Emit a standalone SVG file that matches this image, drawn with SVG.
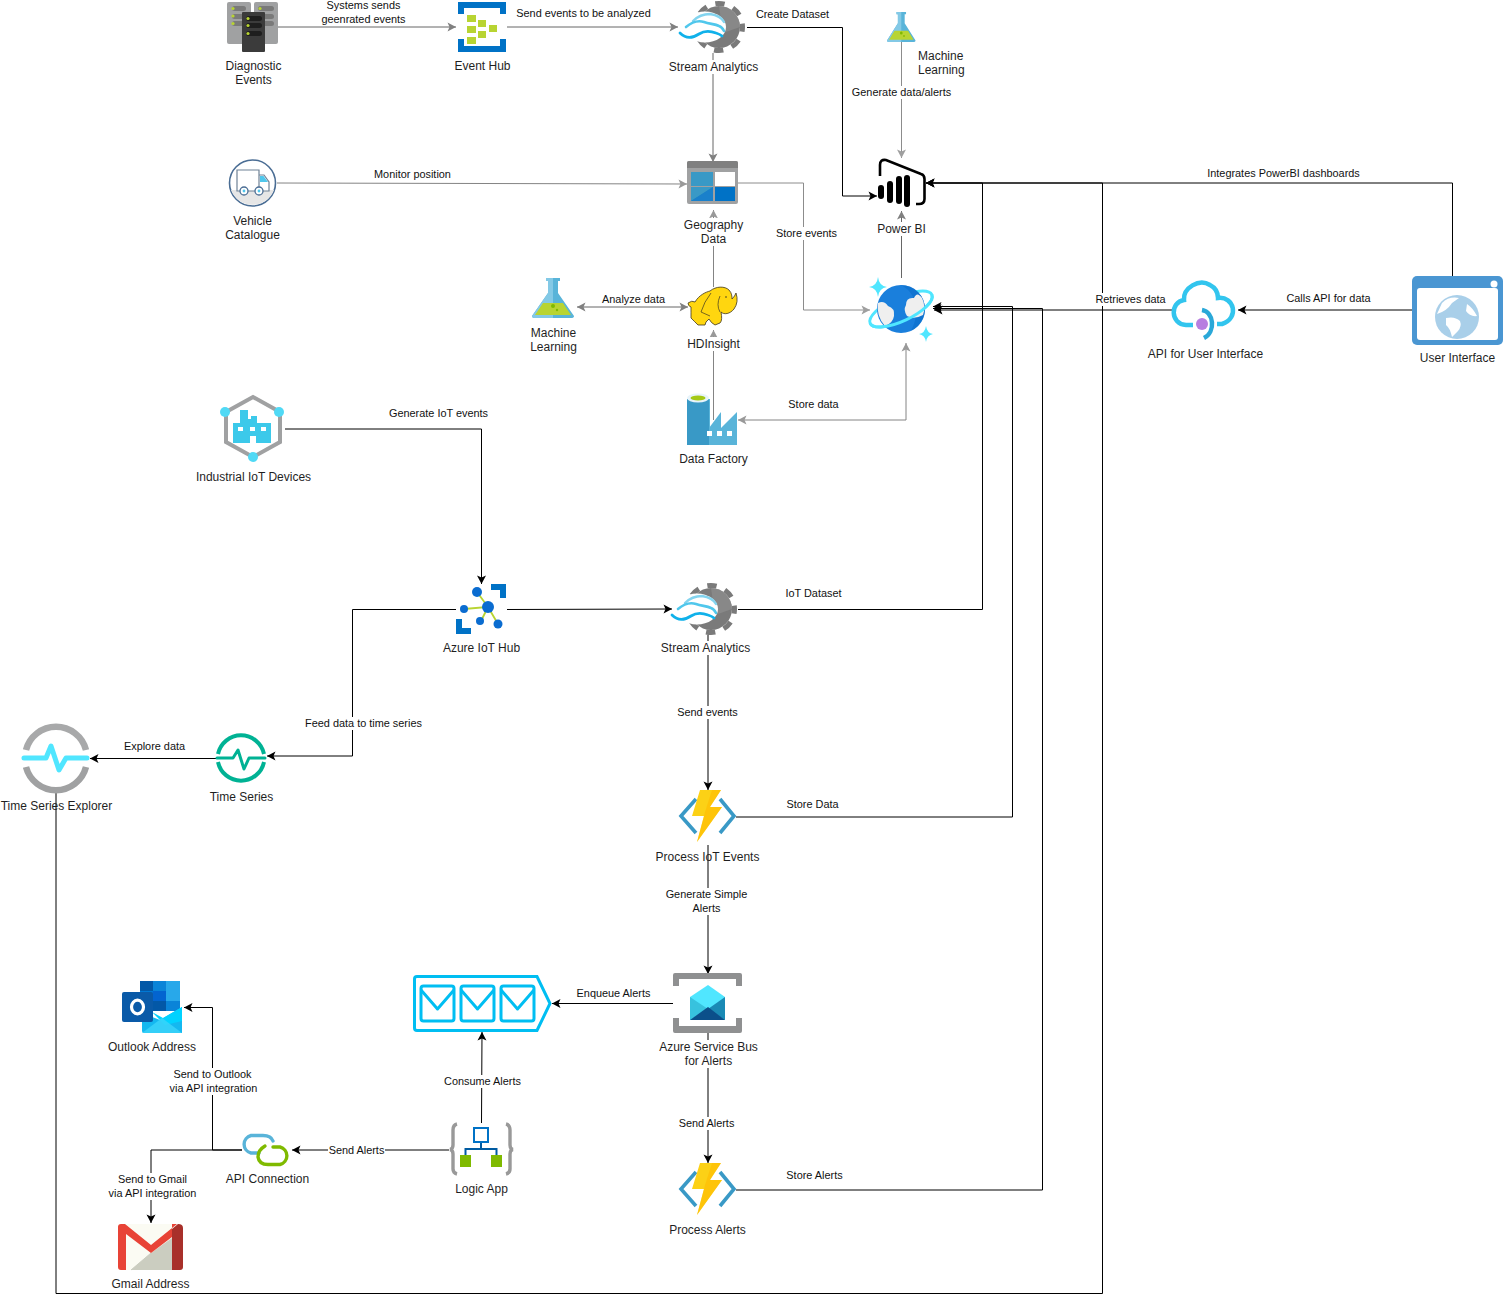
<svg xmlns="http://www.w3.org/2000/svg" xmlns:xlink="http://www.w3.org/1999/xlink" width="1503" height="1303" viewBox="0 0 1503 1303">
<style>
text{font-family:"Liberation Sans",Arial,sans-serif;font-size:12px;fill:#1f1f1f;text-anchor:middle}
.e{font-size:10.9px;fill:#111}
.l{text-anchor:start}
.c{fill:none;stroke-width:1}
.k{stroke:#000}
.g{stroke:#666}
.bg{fill:#fff}
</style>
<defs>
<marker id="ak" markerUnits="userSpaceOnUse" markerWidth="12" markerHeight="12" refX="9" refY="6" orient="auto-start-reverse" overflow="visible"><path d="M0.5,1.500 L9,6 L0.5,10.500 L2.500,6 Z" fill="#000"/></marker>
<marker id="ag" markerUnits="userSpaceOnUse" markerWidth="12" markerHeight="12" refX="9" refY="6" orient="auto-start-reverse" overflow="visible"><path d="M0.5,1.500 L9,6 L0.5,10.500 L2.500,6 Z" fill="#808080"/></marker>
<symbol id="stream" overflow="visible">
<g transform="translate(39,26)">
<circle r="21" fill="#7a7a7a"/>
<circle r="23.500" fill="none" stroke="#7a7a7a" stroke-width="5" stroke-dasharray="9.500 9" stroke-dashoffset="4.750"/>
<path d="M0,-21 A21,21 0 0 1 21,0 L4,6 Z" fill="#8f8f8f" opacity=".7"/>
<ellipse cx="-14" cy="0" rx="21" ry="15.500" fill="#fff"/>
<path d="M-26,-6 C-21,-11 -15,-13 -9,-13 C-3,-12 3,-9 5,-5" fill="none" stroke="#83d4ef" stroke-width="2.400" stroke-linecap="round"/>
<path d="M-33,0 C-27,-5 -21,-7 -15,-5 C-9,-3 -4,-3 0,-1 C3,0 4,2 5,4" fill="none" stroke="#50c7ec" stroke-width="2.600" stroke-linecap="round"/>
<path d="M-39,6 C-33,12 -26,11 -20,7 C-14,3 -8,4 -3,6 C0,7 2,8 3,9" fill="none" stroke="#10b1ea" stroke-width="2.800" stroke-linecap="round"/>
</g>
</symbol>
<symbol id="func" overflow="visible">
<path d="M17,9 L2,26 L17,43" fill="none" stroke="#3999c6" stroke-width="3.600"/>
<path d="M41,9 L55,26 L41,43" fill="none" stroke="#3999c6" stroke-width="3.600"/>
<path d="M21,0 H42 L31,17 H43 L18,52 L25,26 H13 Z" fill="#fcd116"/>
<path d="M33,0 H42 L31,17 H43 L18,52 L26,22 Z" fill="#ffb900" opacity=".55"/>
</symbol>
<symbol id="flask" overflow="visible">
<path d="M14,0 H28 V3 H26 V15 L42,38 Q42,40 39,40 H3 Q0,40 0,38 L16,15 V3 H14Z" fill="#59b4d9"/>
<path d="M21,0 H14 V3 H16 V15 L0,38 Q0,40 3,40 H21Z" fill="#83c9e6"/>
<path d="M11,25 H31 L39,37 H3Z" fill="#b8d432"/>
<circle cx="21" cy="28" r="2" fill="#7fba00"/><circle cx="25" cy="32" r="1.200" fill="#7fba00"/>
</symbol>
</defs>
<rect width="1503" height="1303" fill="#fff"/>
<g id="connectors">
<path class="c g" d="M278,27 H456" marker-end="url(#ag)"/>
<path class="c g" d="M507,27 H678" marker-end="url(#ag)"/>
<path class="c g" d="M713,53 V162" marker-end="url(#ag)"/>
<path class="c k" d="M747,27.500 H842.500 V196 H877" marker-end="url(#ak)"/>
<path class="c g" d="M901.500,42 V158" marker-end="url(#ag)" opacity=".75"/>
<path class="c g" d="M277,183 L687,184" marker-end="url(#ag)" opacity=".8"/>
<path class="c g" d="M738,183 H803.500 V310 H870" marker-end="url(#ag)" opacity=".75"/>
<path class="c g" d="M713.500,287 V210" marker-end="url(#ag)" opacity=".8"/>
<path class="c g" d="M577,307 H688" marker-start="url(#ag)" marker-end="url(#ag)"/>
<path class="c g" d="M713.500,420 V330" marker-end="url(#ag)" opacity=".8"/>
<path class="c g" d="M901.500,278 V211" marker-end="url(#ag)"/>
<path class="c g" d="M738,420 H906 V343" marker-start="url(#ag)" marker-end="url(#ag)" opacity=".8"/>
<path class="c k" d="M738,609.500 H982.500 V183 H926" marker-end="url(#ak)"/>
<path class="c k" d="M1452.500,276 V183 H926" marker-end="url(#ak)"/>
<path class="c k" d="M56,790 V1293.500 H1102.500 V183 H926" marker-end="url(#ak)"/>
<path class="c k" d="M1172,310 H934" marker-end="url(#ak)"/>
<path class="c k" d="M1412,310 H1238" marker-end="url(#ak)"/>
<path class="c k" d="M736,817 H1012.500 V306.500 H933" marker-end="url(#ak)"/>
<path class="c k" d="M736,1190 H1042.500 V308.500 H933" marker-end="url(#ak)"/>
<path class="c k" d="M285,429 H481.500 V584" marker-end="url(#ak)"/>
<path class="c k" d="M507,609.500 L672,609" marker-end="url(#ak)"/>
<path class="c k" d="M456,609.500 H352.500 V756 H267" marker-end="url(#ak)"/>
<path class="c k" d="M216,758.500 H90" marker-end="url(#ak)"/>
<path class="c k" d="M708,635 V790" marker-end="url(#ak)"/>
<path class="c k" d="M708,845 V974" marker-end="url(#ak)"/>
<path class="c k" d="M673,1003.500 H552" marker-end="url(#ak)"/>
<path class="c k" d="M708,1033 V1163" marker-end="url(#ak)"/>
<path class="c k" d="M481.500,1123 L482,1032" marker-end="url(#ak)"/>
<path class="c k" d="M449,1150 H292" marker-end="url(#ak)"/>
<path class="c k" d="M242,1150 H212.500 V1007.500 H184" marker-end="url(#ak)"/>
<path class="c k" d="M242,1150 H151 V1223" marker-end="url(#ak)"/>
<g id="edge-labels">
<text class="e" x="363.500" y="9">Systems sends</text>
<text class="e" x="363.500" y="23">geenrated events</text>
<text class="e" x="583.500" y="17">Send events to be analyzed</text>
<text class="e" x="792.500" y="18">Create Dataset</text>
<rect class="bg" x="850" y="86" width="104" height="13"/><text class="e" x="901.500" y="96">Generate data/alerts</text>
<text class="e" x="412.500" y="178">Monitor position</text>
<text class="e" x="1283.500" y="177">Integrates PowerBI dashboards</text>
<rect class="bg" x="775" y="227" width="64" height="13"/><text class="e" x="806.500" y="237">Store events</text>
<text class="e" x="633.500" y="303">Analyze data</text>
<rect class="bg" x="1094" y="293" width="73" height="13"/><text class="e" x="1130.500" y="303">Retrieves data</text>
<text class="e" x="1328.500" y="302">Calls API for data</text>
<text class="e" x="813.500" y="408">Store data</text>
<text class="e" x="438.500" y="417">Generate IoT events</text>
<text class="e" x="813.500" y="597">IoT Dataset</text>
<rect class="bg" x="304" y="717" width="120" height="13"/><text class="e" x="363.500" y="727">Feed data to time series</text>
<text class="e" x="154.500" y="750">Explore data</text>
<rect class="bg" x="676" y="706" width="63" height="13"/><text class="e" x="707.500" y="716">Send events</text>
<text class="e" x="812.500" y="808">Store Data</text>
<rect class="bg" x="664" y="888" width="85" height="27"/><text class="e" x="706.500" y="898">Generate Simple</text><text class="e" x="706.500" y="912">Alerts</text>
<text class="e" x="613.500" y="997">Enqueue Alerts</text>
<rect class="bg" x="443" y="1075" width="79" height="13"/><text class="e" x="482.500" y="1085">Consume Alerts</text>
<rect class="bg" x="677" y="1117" width="60" height="13"/><text class="e" x="706.500" y="1127">Send Alerts</text>
<text class="e" x="814.500" y="1179">Store Alerts</text>
<rect class="bg" x="328" y="1144" width="57" height="13"/><text class="e" x="356.500" y="1154">Send Alerts</text>
<rect class="bg" x="168" y="1068" width="91" height="27"/><text class="e" x="212.500" y="1078">Send to Outlook</text><text class="e" x="213.500" y="1092">via API integration</text>
<rect class="bg" x="107" y="1173" width="91" height="27"/><text class="e" x="152.500" y="1183">Send to Gmail</text><text class="e" x="152.500" y="1197">via API integration</text>
</g>
</g>

<g id="diagnostic-events">
<rect x="227" y="2" width="24" height="42" rx="2" fill="#a0a1a2"/><rect x="254" y="2" width="24" height="42" rx="2" fill="#a0a1a2"/>
<rect x="232" y="6" width="14" height="5" rx="2.500" fill="#7a7a7a"/><rect x="232" y="14" width="14" height="5" rx="2.500" fill="#7a7a7a"/><rect x="232" y="21" width="14" height="5" rx="2.500" fill="#7a7a7a"/>
<rect x="258" y="6" width="16" height="5" rx="2.500" fill="#7a7a7a"/><rect x="258" y="14" width="16" height="5" rx="2.500" fill="#7a7a7a"/><rect x="258" y="21" width="16" height="5" rx="2.500" fill="#7a7a7a"/>
<circle cx="233" cy="8.500" r="1.600" fill="#b8d432"/><circle cx="233" cy="16" r="1.600" fill="#b8d432"/><circle cx="233" cy="23.500" r="1.600" fill="#b8d432"/><circle cx="260" cy="8.500" r="1.600" fill="#b8d432"/>
<rect x="242" y="12" width="23" height="40" rx="1" fill="#3b3b3b"/>
<rect x="246" y="16" width="16" height="5" rx="2.500" fill="#1e1e1e"/><rect x="246" y="23" width="16" height="5" rx="2.500" fill="#1e1e1e"/><rect x="246" y="31" width="16" height="5" rx="2.500" fill="#1e1e1e"/>
<circle cx="248" cy="18.500" r="1.600" fill="#b8d432"/><circle cx="248" cy="25.500" r="1.600" fill="#b8d432"/><circle cx="248" cy="33.500" r="1.600" fill="#b8d432"/>
<text x="253.500" y="70">Diagnostic</text><text x="253.500" y="84">Events</text>
</g>

<g id="event-hub">
<path d="M458,2 H506 V14 H500 V8 H464 V14 H458Z" fill="#0072c6"/>
<path d="M458,39 H464 V46 H500 V39 H506 V52 H458Z" fill="#0072c6"/>
<g fill="#b8d432"><rect x="467" y="15" width="9" height="7"/><rect x="467" y="26" width="9" height="7"/><rect x="467" y="37" width="9" height="7"/><rect x="478" y="20" width="8" height="7"/><rect x="478" y="31" width="8" height="7"/><rect x="489" y="25" width="8" height="7"/></g>
<text x="482.500" y="70">Event Hub</text>
</g>

<g id="stream-analytics-1">
<use href="#stream" x="680" y="1"/>
<rect class="bg" x="668" y="60" width="91" height="14"/>
<text x="713.500" y="71">Stream Analytics</text>
</g>

<g id="machine-learning-top">
<use href="#flask" transform="translate(887,12) scale(.68,.75)"/>
<text class="l" x="918" y="60">Machine</text><text class="l" x="918" y="74">Learning</text>
</g>

<g id="vehicle-catalogue">
<circle cx="252.500" cy="183" r="23" fill="#fff" stroke="#4a6d94" stroke-width="1.600"/>
<path d="M231,190 H274 A23,23 0 0 1 231,190Z" fill="#e6e6e6"/>
<path d="M237,170 H259 V191 H237Z M259,175 H264 L269,182 V191 H259Z" fill="#fff" stroke="#6f8296" stroke-width="1.200"/>
<path d="M260,176 H263.500 L268,182 H260Z" fill="#50c7ec"/>
<circle cx="244" cy="191" r="4" fill="#fff" stroke="#4a6d94" stroke-width="1.300"/><circle cx="244" cy="191" r="1.400" fill="#50c7ec"/>
<circle cx="259" cy="191" r="4" fill="#fff" stroke="#4a6d94" stroke-width="1.300"/><circle cx="259" cy="191" r="1.400" fill="#50c7ec"/>
<text x="252.500" y="225">Vehicle</text><text x="252.500" y="239">Catalogue</text>
</g>

<g id="geography-data">
<rect x="687" y="161" width="51" height="43" rx="2" fill="#a0a1a2"/>
<path d="M689,161 H736 Q738,161 738,163 V168 H687 V163 Q687,161 689,161Z" fill="#808080"/>
<rect x="691" y="172" width="22" height="14" fill="#3999c6"/><rect x="715" y="172" width="20" height="14" fill="#fff"/>
<rect x="691" y="187" width="22" height="14" fill="#0072c6"/><rect x="715" y="187" width="20" height="14" fill="#0072c6"/>
<path d="M691,201 L713,187 V201Z" fill="#fff" opacity=".1"/><path d="M691,187 H713 L691,201Z" fill="#3999c6"/>
<rect class="bg" x="683" y="218" width="62" height="28"/>
<text x="713.500" y="229">Geography</text><text x="713.500" y="243">Data</text>
</g>

<g id="power-bi">
<path d="M880,176 V165 Q880,159 886,160 L921,174 Q924.500,175 924.500,179 V199 Q924.500,204 919,204 H916" fill="none" stroke="#000" stroke-width="2.600"/>
<rect x="878" y="185" width="6" height="14" rx="3"/><rect x="887" y="181" width="6" height="22" rx="3"/><rect x="896" y="176" width="6" height="28" rx="3"/><rect x="904" y="175" width="6" height="32" rx="3"/>
<rect class="bg" x="876" y="222" width="52" height="14"/>
<text x="901.500" y="233">Power BI</text>
</g>

<g id="cosmos-db">
<path d="M878,277 Q879,286 887,287 Q879,288 878,297 Q877,288 869,287 Q877,286 878,277Z" fill="#50e6ff"/>
<path d="M926,326 Q927,333 933,334 Q927,335 926,342 Q925,335 919,334 Q925,333 926,326Z" fill="#50e6ff"/>
<ellipse cx="901" cy="309" rx="34" ry="12" transform="rotate(-25 901 309)" fill="none" stroke="#50e6ff" stroke-width="3"/>
<circle cx="901" cy="309" r="24" fill="#1a7fdc"/>
<path d="M901,285 A24,24 0 0 1 925,309 A24,24 0 0 1 911,331 C922,310 915,292 901,285Z" fill="#0a6cc9" opacity=".6"/>
<path d="M878,303 Q884,300 888,306 Q895,308 894,316 Q893,323 885,326 Q876,316 878,303Z" fill="#efefef"/>
<path d="M906,305 Q906,297 914,298 Q917,291 922,298 Q926,306 923,315 Q914,320 907,316 Q903,310 906,305Z" fill="#efefef"/>
<path d="M-34,0 A34,12 0 0 0 34,0" transform="translate(901 309) rotate(-25)" fill="none" stroke="#50e6ff" stroke-width="3"/>
</g>

<g id="api-user-interface">
<path d="M1193,325 H1186 C1170,324 1170,302 1184,300 C1183,288 1199,278 1210,285 C1216,288 1218,293 1218,298 C1234,296 1240,318 1222,324 H1217" fill="none" stroke="#32c5ee" stroke-width="4.500"/>
<path d="M1202,310 C1214,312 1216,332 1204,338" fill="none" stroke="#2aa8d8" stroke-width="4.500"/>
<circle cx="1202" cy="324" r="6" fill="#b77ee0"/>
<text x="1205.500" y="358">API for User Interface</text>
</g>

<g id="user-interface">
<rect x="1412" y="276" width="91" height="69" rx="5" fill="#4a96d2"/>
<rect x="1417" y="288" width="81" height="52" rx="3" fill="#fff"/>
<circle cx="1494" cy="284" r="3.500" fill="#fff"/>
<circle cx="1457" cy="317" r="22" fill="#a9cfe9"/>
<path d="M1437,314 Q1447,311 1452,303 L1459,298 Q1449,296 1442,303 Z M1446,318 Q1455,316 1460,321 Q1462,326 1458,331 L1452,337 Q1450,328 1446,325Z M1467,304 Q1473,308 1477,316 Q1470,317 1466,311Z" fill="#fff"/>
<text x="1457.500" y="362">User Interface</text>
</g>

<g id="machine-learning">
<use href="#flask" x="532" y="278"/>
<text x="553.500" y="337">Machine</text><text x="553.500" y="351">Learning</text>
</g>

<g id="hdinsight">
<path d="M688,303 Q692,300 695,302 C699,295 706,292 710,291 C716,286 725,286 729,290 C732,293 732,297 732,299 Q735,296 736,293 Q739,302 734,309 C730,314 724,315 721,312 C722,317 722,321 720,323 L715,325 Q711,323 709,319 L706,322 L705,325 L698,325 Q695,322 691,318 Q691,312 691,307 Q688,306 688,303Z" fill="#ffd60f" stroke="#3c3522" stroke-width=".8"/>
<path d="M711,293 Q704,302 701,312 L710,316 M720,296 Q716,305 720,312" fill="none" stroke="#3c3522" stroke-width=".7"/>
<circle cx="726" cy="297" r=".8" fill="#3c3522"/>
<rect class="bg" x="686" y="337" width="56" height="14"/>
<text x="713.500" y="348">HDInsight</text>
</g>

<g id="data-factory">
<path d="M687,399 H709 V445 H687Z" fill="#3999c6"/>
<path d="M709,428 L721,412 V428 L737,412 V445 H709Z" fill="#59b4d9"/>
<rect x="709" y="399" width="1" height="30" fill="#59b4d9"/>
<ellipse cx="698" cy="398" rx="11" ry="4.500" fill="#e8f4fa"/><ellipse cx="698" cy="398" rx="7.500" ry="2.500" fill="#a5c916"/>
<g fill="#fff"><rect x="707" y="431" width="5" height="5"/><rect x="717" y="431" width="5" height="5"/><rect x="727" y="431" width="5" height="5"/></g>
<text x="713.500" y="463">Data Factory</text>
</g>

<g id="industrial-iot">
<path d="M253,397 L280,412 V442 L253,457 L226,442 V412Z" fill="none" stroke="#a0a1a2" stroke-width="4"/>
<circle cx="225" cy="412" r="5" fill="#50d9f5"/><circle cx="279" cy="412" r="5" fill="#50d9f5"/><circle cx="253" cy="457" r="5" fill="#50d9f5"/>
<path d="M233,423 H240 V410 H248 V419 H251 V416 H257 V423 H271 V443 H256 V436 H250 V443 H233Z" fill="#3cc9ea"/>
<g fill="#fff"><rect x="238" y="427" width="5" height="4"/><rect x="250" y="427" width="5" height="4"/><rect x="261" y="427" width="5" height="4"/></g>
<text x="253.500" y="481">Industrial IoT Devices</text>
</g>

<g id="azure-iot-hub">
<path d="M491,584 H506 V598 H500 V590 H491Z M456,619 H462 V628 H471 V634 H456Z" fill="#0072c6"/>
<path d="M477,592 L488,607 L464,609 M488,607 L498,624" fill="none" stroke="#b8d432" stroke-width="1.800"/>
<path d="M488,607 L481,621" fill="none" stroke="#b8d432" stroke-width="1.800"/>
<g fill="#0a6cd0"><circle cx="477" cy="592" r="5"/><circle cx="488" cy="607" r="6"/><circle cx="464" cy="609" r="4"/><circle cx="480" cy="621" r="4"/><circle cx="498" cy="624" r="4.500"/></g>
<text x="481.500" y="652">Azure IoT Hub</text>
</g>

<g id="stream-analytics-2">
<use href="#stream" x="672" y="583"/>
<rect class="bg" x="660" y="641" width="91" height="14"/>
<text x="705.500" y="652">Stream Analytics</text>
</g>

<g id="time-series">
<path d="M218,754 A23.500,23.500 0 0 1 264,754 M264,762 A23.500,23.500 0 0 1 218,762" fill="none" stroke="#00b294" stroke-width="4"/>
<path d="M217,758 H233 L238,750 L244,769 L249,758 H265" fill="none" stroke="#00b294" stroke-width="3" stroke-linejoin="round" stroke-linecap="round"/>
<text x="241.500" y="801">Time Series</text>
</g>

<g id="time-series-explorer">
<path d="M26,750 A31,31 0 0 1 86,750" fill="none" stroke="#a8a9aa" stroke-width="6.500"/>
<path d="M86,767 A31,31 0 0 1 26,767" fill="none" stroke="#a0a1a2" stroke-width="6.500"/>
<path d="M24,758 H46 L51,746 L59,770 L66,758 H87" fill="none" stroke="#50e6ff" stroke-width="5" stroke-linejoin="round" stroke-linecap="round"/>
<text x="56.500" y="810">Time Series Explorer</text>
</g>

<g id="process-iot-events">
<use href="#func" x="679" y="790"/>
<text x="707.500" y="861">Process IoT Events</text>
</g>

<g id="alert-queue">
<path d="M417,976.500 H537 L550,1003.500 L537,1030.500 H417 Q414.500,1030.500 414.500,1028 V979 Q414.500,976.500 417,976.500Z" fill="#fff" stroke="#00bef2" stroke-width="3"/>
<g fill="none" stroke="#00bef2" stroke-width="3" stroke-linejoin="round">
<rect x="421" y="986" width="33" height="35" rx="2.500"/><path d="M421,990 L437.500,1009 L454,990"/>
<rect x="461" y="986" width="33" height="35" rx="2.500"/><path d="M461,990 L477.500,1009 L494,990"/>
<rect x="501" y="986" width="33" height="35" rx="2.500"/><path d="M501,990 L517.500,1009 L534,990"/>
</g>
</g>

<g id="azure-service-bus">
<path d="M673,975 Q673,973 675,973 H740 Q742,973 742,975 V986 H736 V979 H679 V986 H673Z" fill="#8f9091"/>
<path d="M673,1018 H679 V1026 H736 V1018 H742 V1031 Q742,1033 740,1033 H675 Q673,1033 673,1031Z" fill="#8f9091"/>
<path d="M708,985 L725,997 V1020 H690 V997Z" fill="#50e6ff"/>
<path d="M690,997 L708,1009 L690,1020Z" fill="#37c2de"/><path d="M725,997 L708,1009 L725,1020Z" fill="#1a8ab5"/>
<path d="M690,1020 L708,1007 L725,1020Z" fill="#0b4f8a"/>
<rect class="bg" x="658" y="1040" width="102" height="28"/>
<text x="708.500" y="1051">Azure Service Bus</text><text x="708.500" y="1065">for Alerts</text>
</g>

<g id="process-alerts">
<use href="#func" x="679" y="1163"/>
<text x="707.500" y="1234">Process Alerts</text>
</g>

<g id="logic-app">
<path d="M457,1124 Q453,1125 453,1130 V1145 Q453,1149 450,1149.500 Q453,1150 453,1154 V1169 Q453,1173 457,1174" fill="none" stroke="#999" stroke-width="3.400"/>
<path d="M506,1124 Q510,1125 510,1130 V1145 Q510,1149 513,1149.500 Q510,1150 510,1154 V1169 Q510,1173 506,1174" fill="none" stroke="#999" stroke-width="3.400"/>
<rect x="474" y="1128" width="14" height="14" fill="#fff" stroke="#0072c6" stroke-width="2"/>
<path d="M481,1143 V1149 M465.500,1155 V1149 H496.500 V1155" fill="none" stroke="#005ba1" stroke-width="2"/>
<rect x="460" y="1155" width="11" height="12" fill="#7fba00"/><rect x="491" y="1155" width="11" height="12" fill="#7fba00"/>
<text x="481.500" y="1193">Logic App</text>
</g>

<g id="api-connection">
<path d="M259,1153 H251 A9,9 0 0 1 251,1135.500 H263 Q271,1135.500 273,1141" fill="none" stroke="#59b4d9" stroke-width="3.400" stroke-linecap="round"/>
<path d="M273,1147 H280 A9,9 0 0 1 280,1164.500 H268 Q259,1164.500 258,1157 Q258,1150 265,1146" fill="none" stroke="#7fba00" stroke-width="3.400" stroke-linecap="round"/>
<text x="267.500" y="1183">API Connection</text>
</g>

<g id="outlook-address">
<rect x="140" y="981" width="40" height="30" rx="2" fill="#0a6fc9"/>
<rect x="140" y="981" width="13" height="10" fill="#0358a7"/><rect x="153" y="981" width="13" height="10" fill="#0a84d8"/><rect x="166" y="981" width="14" height="10" fill="#28a8ea"/>
<rect x="140" y="991" width="13" height="10" fill="#0078d4"/><rect x="153" y="991" width="13" height="10" fill="#0364d0"/><rect x="166" y="991" width="14" height="10" fill="#28a8ea"/>
<rect x="140" y="1001" width="13" height="10" fill="#0358a7"/><rect x="153" y="1001" width="13" height="10" fill="#0358a7"/><rect x="166" y="1001" width="14" height="10" fill="#0a84d8"/>
<path d="M142,1013 L160,1020 L182,1007 V1033 H144 Q142,1033 142,1031Z" fill="#14b8f0"/>
<path d="M152,1012 L163,1018 L182,1007 V1021 L165,1025Z" fill="#00d2ff"/>
<path d="M142,1033 L162,1018 L182,1033Z" fill="#3cd4fa" opacity=".8"/>
<rect x="122" y="992" width="31" height="30" rx="2" fill="#0a5aa8"/>
<ellipse cx="137.500" cy="1007" rx="6" ry="6.800" fill="none" stroke="#fff" stroke-width="3.200"/>
<text x="152" y="1051">Outlook Address</text>
</g>

<g id="gmail-address">
<rect x="118" y="1224" width="65" height="46" rx="3" fill="#fbfbf3"/>
<path d="M151,1253 L172,1238 V1270 H131Z" fill="#cbcdc0"/><path d="M131,1270 L151,1253" stroke="#cbcdc0" fill="none"/>
<path d="M118,1227 Q118,1224 121,1224 H125 L151,1245 L177,1224 H172 V1237 L151,1253 L126,1234 V1270 H121 Q118,1270 118,1267Z" fill="#e84336"/>
<path d="M172,1229 L178,1224 Q183,1224 183,1228 V1267 Q183,1270 180,1270 H172Z" fill="#a8302a"/>
<text x="150.500" y="1288">Gmail Address</text>
</g>
</svg>
